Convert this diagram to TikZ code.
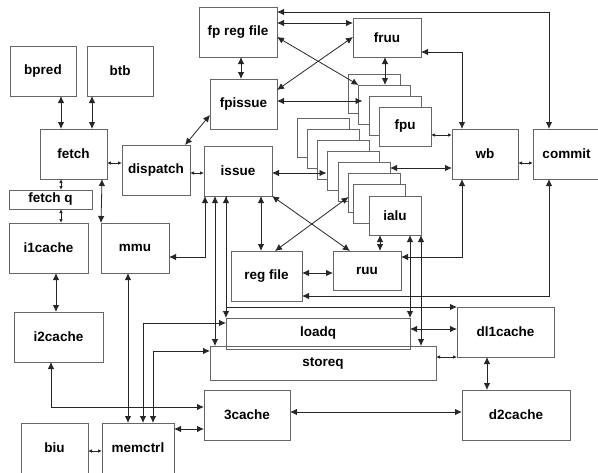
\documentclass[tikz,border=0pt]{standalone}
\usepackage{fontspec}
\setmainfont{Liberation Sans}
\usetikzlibrary{arrows.meta,calc}
\tikzset{
  blk/.style={draw=black!60, line width=0.9pt, inner sep=0pt, outer sep=0pt,
              font=\bfseries\fontsize{13.5}{15}\selectfont},
  stk/.style={blk, fill=white, minimum width=52pt, minimum height=39pt},
  dbl/.style={{Latex[length=7pt,width=6.5pt]}-{Latex[length=7pt,width=6.5pt]}, line width=0.8pt, draw=black!85},
  sdbl/.style={{Latex[length=4pt,width=3.5pt]}-{Latex[length=4pt,width=3.5pt]}, line width=0.8pt, draw=black!85},
  sarr/.style={-{Latex[length=7pt,width=6.5pt]}, line width=0.8pt, draw=black!85}
}
\begin{document}
\begin{tikzpicture}[x=1pt,y=-1pt]
\useasboundingbox (0,0) rectangle (598,472);
% front end
\node[blk,minimum width=66pt,minimum height=50pt] (bpred) at (43,71) {bpred}; % bpred
\node[blk,minimum width=66pt,minimum height=50pt] (btb) at (120,71) {btb}; % btb
\node[blk,minimum width=67pt,minimum height=50pt] (fetch) at (73.5,154) {fetch}; % fetch
\node[blk,minimum width=68pt,minimum height=50pt] (dispatch) at (156,170) {dispatch}; % dispatch
\node[blk,minimum width=83pt,minimum height=19pt] (fetchq) at (50.5,199.5) {fetch q}; % fetch q
\node[blk,minimum width=79pt,minimum height=50pt] (i1cache) at (48.5,248) {i1cache}; % i1cache
\node[blk,minimum width=68pt,minimum height=50pt] (mmu) at (135,248) {mmu}; % mmu
\node[blk,minimum width=89pt,minimum height=50pt] (i2cache) at (58.5,337) {i2cache}; % i2cache
\node[blk,minimum width=67pt,minimum height=50pt] (biu) at (54.5,448) {biu}; % biu
\node[blk,minimum width=72pt,minimum height=50pt] (memctrl) at (138,448) {memctrl}; % memctrl
\node[blk,minimum width=86pt,minimum height=50pt] (l3cache) at (247,415) {3cache}; % 3cache
\node[blk,minimum width=108pt,minimum height=50pt] (d2cache) at (516,415) {d2cache}; % d2cache
\node[blk,minimum width=97pt,minimum height=50pt] (dl1cache) at (505.5,332) {dl1cache}; % dl1cache
\node[blk,minimum width=226pt,minimum height=34pt] (storeq) at (323,363) {storeq}; % storeq
\node[blk,minimum width=184pt,minimum height=31pt] (loadq) at (318,333.5) {loadq}; % loadq
% integer core
\node[blk,minimum width=68pt,minimum height=50pt] (issue) at (238,171) {issue}; % issue
\node[blk,minimum width=71pt,minimum height=50pt] (regfile) at (266.5,276) {reg file}; % reg file
\node[blk,minimum width=68pt,minimum height=39pt] (ruu) at (367,270.5) {ruu}; % ruu
\foreach \n/\x/\y in {A/323/137.5,B/333/148.5,C/343.5/159.5,D/353.5/170.5,E/364/181.5,F/374.5/192.5,G/379.5/203.5}
  \node[stk] (ialu\n) at (\x,\y) {}; % ialu stack
\node[stk] (ialu) at (395,215.5) {ialu}; % ialu
% floating point core
\node[blk,minimum width=78pt,minimum height=50pt] (fpreg) at (238,32) {fp reg file}; % fp reg file
\node[blk,minimum width=67pt,minimum height=50pt] (fpissue) at (243.5,104) {fpissue}; % fpissue
\node[blk,minimum width=68pt,minimum height=39pt] (fruu) at (387,37.5) {fruu}; % fruu
\foreach \n/\x/\y in {A/374/93.5,B/384.5/104.5,C/395/115.5}
  \node[stk] (fpu\n) at (\x,\y) {}; % fpu stack
\node[stk] (fpu) at (405,126.5) {fpu}; % fpu
\node[blk,minimum width=66pt,minimum height=50pt] (wb) at (485,154) {wb}; % wb
\node[blk,minimum width=67pt,minimum height=50pt] (commit) at (566.5,154) {commit}; % commit
% front end wiring
\draw[dbl] (61,0 |- bpred.south) -- (61,0 |- fetch.north); % bpred-fetch
\draw[dbl] (92,0 |- btb.south) -- (92,0 |- fetch.north); % btb-fetch
\draw[sdbl] (fetch.east |- 0,163) -- (dispatch.west |- 0,163); % fetch-dispatch
\draw[sdbl] (61,0 |- fetch.south) -- (61,0 |- fetchq.north); % fetch-fetch q
\draw[sdbl] (61,0 |- fetchq.south) -- (61,0 |- i1cache.north); % fetch q-i1cache
\draw[dbl] (102,0 |- fetch.south) -- (mmu.north west); % fetch-mmu
\draw[dbl] (56,0 |- i1cache.south) -- (56,0 |- i2cache.north); % i1cache-i2cache
\draw[sdbl] (dispatch.east |- 0,173) -- (issue.west |- 0,173); % dispatch-issue
\draw[dbl] (185,0 |- dispatch.north) -- (fpissue.west |- 0,115); % dispatch-fpissue
% fp wiring
\draw[dbl] (241,0 |- fpreg.south) -- (241,0 |- fpissue.north); % fp reg file-fpissue
\draw[dbl] (fpreg.east |- 0,23) -- (fruu.west |- 0,23); % fp reg file-fruu
\draw[dbl] (fpreg.east |- 0,12) -| (549,0 |- commit.north); % fp reg file-commit
\draw[dbl] (fpreg.east |- 0,37) -- (fpuB.north west); % fp reg file-fpu
\draw[dbl] (fruu.west |- 0,37) -- (fpissue.east |- 0,90); % fruu-fpissue
\draw[dbl] (fpissue.east |- 0,101) -- ($(fpuB.west |- 0,101)+(4,0)$); % fpissue-fpu
\draw[dbl] (385,0 |- fruu.south) -- (385,0 |- fpuB.north); % fruu-fpu
\draw[dbl] (fruu.east |- 0,52) -| (462,0 |- wb.north); % fruu-wb
\draw[sdbl] (fpu.east |- 0,135) -- (wb.west |- 0,135); % fpu-wb
\draw[sdbl] (wb.east |- 0,163) -- (commit.west |- 0,163); % wb-commit
% integer wiring
\draw[dbl] (ialuE.east |- 0,168) -- (wb.west |- 0,168); % ialu-wb
\draw[dbl] (issue.east |- 0,173) -- ($(ialuD.west |- 0,173)+(-1,0)$); % issue-ialu
\draw[dbl] (261,0 |- issue.south) -- (261,0 |- regfile.north); % issue-reg file
\draw[dbl] (issue.south east) -- (350,0 |- ruu.north); % issue-ruu
\draw[dbl] (ialuF.west |- 0,197) -- (275,0 |- regfile.north); % ialu-reg file
\draw[dbl] (regfile.east |- 0,273) -- (ruu.west |- 0,273); % reg file-ruu
\draw[dbl] (380,0 |- ialu.south) -- (380,0 |- ruu.north); % ialu-ruu
\draw[dbl] (462,0 |- wb.south) |- (ruu.east |- 0,257); % wb-ruu
\draw[dbl] (549,0 |- commit.south) |- (regfile.east |- 0,296); % commit-reg file
% memory wiring
\draw[dbl] (205,0 |- issue.south) |- (mmu.east |- 0,257); % issue-mmu
\draw[dbl] (215,0 |- issue.south) -- (215,0 |- storeq.north); % issue-storeq
\draw[dbl] (226,0 |- issue.south) -- (226,0 |- loadq.north); % issue-loadq
\draw[sarr] (226,0 |- issue.south) |- (dl1cache.north west); % issue-dl1cache
\draw[dbl] (410,0 |- ialu.south) -- (410,0 |- loadq.north); % ialu-loadq
\draw[dbl] (ialu.south east) -- (421,0 |- storeq.north); % ialu-storeq
\draw[dbl] (loadq.east |- 0,329) -- (dl1cache.west |- 0,329); % loadq-dl1cache
\draw[sdbl] (storeq.east |- 0,357) -- (dl1cache.south west); % storeq-dl1cache
\draw[dbl] (487,0 |- dl1cache.south) -- (487,0 |- d2cache.north); % dl1cache-d2cache
\draw[dbl] (l3cache.east |- 0,412) -- (d2cache.west |- 0,412); % 3cache-d2cache
\draw[dbl] (143,0 |- memctrl.north) |- (loadq.west |- 0,323); % memctrl-loadq
\draw[dbl] (153,0 |- memctrl.north) |- (storeq.west |- 0,351); % memctrl-storeq
\draw[dbl] (128,0 |- mmu.south) -- (128,0 |- memctrl.north); % mmu-memctrl
\draw[dbl] (51,0 |- i2cache.south) |- (l3cache.west |- 0,407); % i2cache-3cache
\draw[dbl] (memctrl.east |- 0,429) -- (l3cache.west |- 0,429); % memctrl-3cache
\draw[sdbl] (biu.east |- 0,451) -- (memctrl.west |- 0,451); % biu-memctrl
\end{tikzpicture}
\end{document}
